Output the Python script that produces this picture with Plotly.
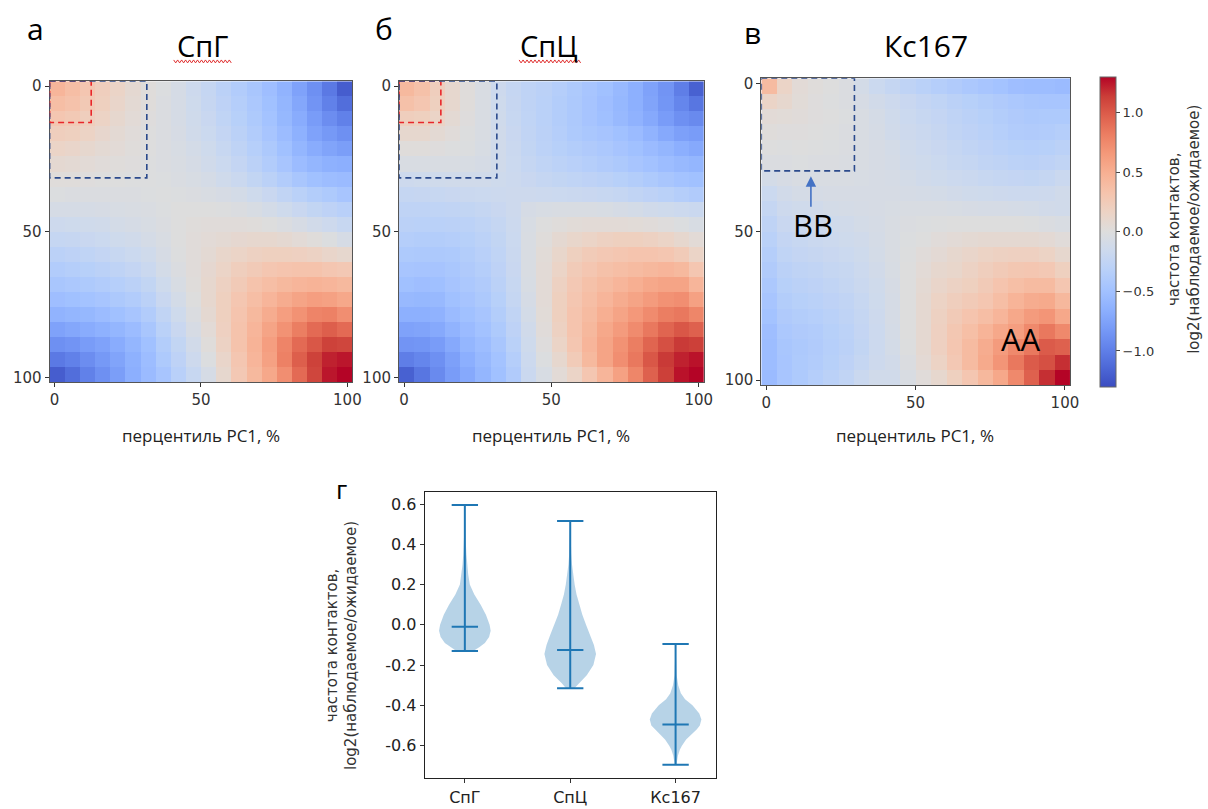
import plotly.graph_objects as go
import numpy as np

W, H = 1208, 809

# ---------------- data ----------------
panel_titles = ["СпГ", "СпЦ", "Кс167"]
panel_letters = ["а", "б", "в", "г"]
percentile_ticks = [0, 50, 100]
cbar_ticks = [-1.0, -0.5, 0.0, 0.5, 1.0]

# saddle plots: upper-triangle rows of symmetric matrices (20 percentile bins of PC1)
cpg_rows = [
    [0.45, 0.38, 0.3, 0.22, 0.15, 0.08, 0.02, -0.02, -0.08, -0.15, -0.22, -0.3, -0.37, -0.44, -0.52, -0.62, -0.75, -0.88, -1.03, -1.2],
    [0.34, 0.27, 0.2, 0.13, 0.07, 0.02, -0.03, -0.08, -0.14, -0.21, -0.28, -0.35, -0.42, -0.5, -0.6, -0.72, -0.85, -0.98, -1.1],
    [0.22, 0.16, 0.1, 0.05, 0.01, -0.03, -0.08, -0.13, -0.19, -0.26, -0.33, -0.4, -0.48, -0.58, -0.68, -0.8, -0.9, -0.98],
    [0.11, 0.07, 0.03, 0.0, -0.03, -0.07, -0.12, -0.17, -0.23, -0.3, -0.37, -0.45, -0.54, -0.64, -0.75, -0.82, -0.88],
    [0.05, 0.02, 0.0, -0.03, -0.06, -0.1, -0.14, -0.2, -0.27, -0.34, -0.41, -0.5, -0.6, -0.68, -0.74, -0.78],
    [0.01, -0.01, -0.03, -0.05, -0.08, -0.12, -0.17, -0.23, -0.3, -0.37, -0.45, -0.54, -0.6, -0.64, -0.66],
    [-0.01, -0.02, -0.04, -0.06, -0.09, -0.13, -0.18, -0.24, -0.3, -0.37, -0.44, -0.5, -0.53, -0.55],
    [-0.01, -0.02, -0.03, -0.05, -0.07, -0.1, -0.14, -0.19, -0.25, -0.31, -0.36, -0.4, -0.45],
    [0.0, 0.0, 0.0, -0.01, -0.03, -0.06, -0.1, -0.14, -0.19, -0.24, -0.28, -0.32],
    [0.02, 0.03, 0.03, 0.03, 0.02, 0.0, -0.03, -0.07, -0.11, -0.15, -0.2],
    [0.05, 0.07, 0.09, 0.1, 0.1, 0.08, 0.05, 0.02, -0.02, -0.08],
    [0.12, 0.15, 0.18, 0.2, 0.2, 0.19, 0.17, 0.13, 0.1],
    [0.22, 0.26, 0.3, 0.32, 0.33, 0.33, 0.3, 0.28],
    [0.33, 0.38, 0.42, 0.45, 0.47, 0.45, 0.42],
    [0.45, 0.52, 0.58, 0.62, 0.6, 0.55],
    [0.62, 0.7, 0.78, 0.8, 0.72],
    [0.82, 0.92, 0.98, 0.92],
    [1.02, 1.12, 1.1],
    [1.22, 1.25],
    [1.3],
]
cpc_rows = [
    [0.42, 0.35, 0.22, 0.1, 0.02, -0.05, -0.15, -0.22, -0.27, -0.3, -0.35, -0.4, -0.45, -0.5, -0.57, -0.65, -0.75, -0.85, -1.0, -1.18],
    [0.3, 0.2, 0.1, 0.02, -0.05, -0.14, -0.21, -0.27, -0.31, -0.36, -0.41, -0.46, -0.52, -0.58, -0.65, -0.74, -0.84, -0.95, -1.05],
    [0.15, 0.07, 0.01, -0.05, -0.13, -0.2, -0.26, -0.31, -0.36, -0.41, -0.46, -0.51, -0.57, -0.63, -0.7, -0.8, -0.88, -0.92],
    [0.03, -0.01, -0.05, -0.12, -0.19, -0.25, -0.3, -0.35, -0.4, -0.43, -0.46, -0.5, -0.55, -0.62, -0.7, -0.77, -0.8],
    [-0.02, -0.06, -0.12, -0.18, -0.24, -0.29, -0.33, -0.36, -0.39, -0.42, -0.46, -0.5, -0.55, -0.6, -0.66, -0.7],
    [-0.08, -0.12, -0.17, -0.22, -0.26, -0.29, -0.32, -0.35, -0.38, -0.41, -0.45, -0.49, -0.53, -0.57, -0.6],
    [-0.14, -0.16, -0.19, -0.22, -0.24, -0.26, -0.28, -0.3, -0.33, -0.36, -0.4, -0.44, -0.48, -0.5],
    [-0.15, -0.15, -0.16, -0.17, -0.18, -0.19, -0.2, -0.22, -0.25, -0.28, -0.31, -0.35, -0.38],
    [-0.08, -0.06, -0.05, -0.05, -0.05, -0.06, -0.08, -0.1, -0.12, -0.14, -0.16, -0.18],
    [0.0, 0.02, 0.04, 0.05, 0.05, 0.05, 0.04, 0.03, 0.01, -0.02, -0.06],
    [0.08, 0.12, 0.15, 0.18, 0.2, 0.2, 0.18, 0.15, 0.1, 0.05],
    [0.2, 0.25, 0.28, 0.3, 0.32, 0.32, 0.3, 0.25, 0.15],
    [0.3, 0.35, 0.38, 0.4, 0.43, 0.45, 0.42, 0.3],
    [0.4, 0.45, 0.5, 0.55, 0.58, 0.58, 0.45],
    [0.52, 0.58, 0.64, 0.7, 0.72, 0.6],
    [0.66, 0.74, 0.82, 0.85, 0.77],
    [0.85, 0.95, 1.02, 0.97],
    [1.05, 1.15, 1.13],
    [1.22, 1.26],
    [1.3],
]
ki67_rows = [
    [0.4, 0.15, 0.05, 0.02, 0.0, -0.03, -0.1, -0.17, -0.22, -0.27, -0.31, -0.35, -0.38, -0.42, -0.45, -0.48, -0.52, -0.53, -0.53, -0.55],
    [0.1, 0.04, 0.01, -0.01, -0.03, -0.07, -0.11, -0.15, -0.19, -0.23, -0.26, -0.3, -0.33, -0.36, -0.39, -0.42, -0.44, -0.45, -0.45],
    [0.03, 0.01, 0.0, -0.02, -0.05, -0.09, -0.13, -0.17, -0.2, -0.23, -0.27, -0.3, -0.33, -0.36, -0.39, -0.41, -0.4, -0.4],
    [0.0, -0.01, -0.03, -0.05, -0.08, -0.12, -0.15, -0.18, -0.21, -0.25, -0.28, -0.31, -0.34, -0.37, -0.38, -0.37, -0.35],
    [-0.02, -0.03, -0.05, -0.07, -0.1, -0.13, -0.16, -0.19, -0.22, -0.25, -0.28, -0.31, -0.33, -0.34, -0.33, -0.3],
    [-0.04, -0.05, -0.07, -0.09, -0.12, -0.14, -0.17, -0.2, -0.22, -0.25, -0.27, -0.29, -0.3, -0.28, -0.25],
    [-0.06, -0.07, -0.08, -0.1, -0.12, -0.14, -0.16, -0.18, -0.2, -0.22, -0.23, -0.24, -0.22, -0.18],
    [-0.07, -0.07, -0.08, -0.09, -0.1, -0.11, -0.13, -0.14, -0.15, -0.16, -0.16, -0.15, -0.12],
    [-0.06, -0.05, -0.05, -0.05, -0.06, -0.07, -0.08, -0.08, -0.09, -0.1, -0.11, -0.12],
    [-0.03, -0.02, -0.01, 0.0, 0.0, 0.0, 0.0, 0.0, -0.01, -0.03, -0.05],
    [0.0, 0.03, 0.05, 0.07, 0.08, 0.08, 0.08, 0.08, 0.06, 0.03],
    [0.06, 0.1, 0.13, 0.16, 0.18, 0.19, 0.19, 0.16, 0.1],
    [0.12, 0.17, 0.22, 0.26, 0.29, 0.3, 0.28, 0.2],
    [0.2, 0.26, 0.32, 0.37, 0.4, 0.4, 0.3],
    [0.3, 0.38, 0.46, 0.52, 0.54, 0.43],
    [0.45, 0.55, 0.64, 0.68, 0.55],
    [0.62, 0.75, 0.85, 0.75],
    [0.85, 1.0, 0.97],
    [1.05, 1.18],
    [1.3],
]

# violin plot (panel г)
violin_labels = ["СпГ", "СпЦ", "Кс167"]
violin_max = [0.595, 0.515, -0.095]
violin_min = [-0.13, -0.315, -0.695]
violin_mid = [-0.01, -0.125, -0.495]
cpg_prof_y = [0.595, 0.5, 0.42, 0.35, 0.3, 0.25, 0.2, 0.15, 0.1, 0.05, 0.0, -0.03, -0.06, -0.09, -0.11, -0.13]
cpg_prof_w = [0.0, 0.003, 0.008, 0.015, 0.022, 0.032, 0.047, 0.09, 0.15, 0.2, 0.235, 0.245, 0.23, 0.19, 0.14, 0.08]
cpc_prof_y = [0.515, 0.45, 0.4, 0.35, 0.3, 0.25, 0.2, 0.15, 0.1, 0.05, 0.0, -0.05, -0.1, -0.145, -0.2, -0.25, -0.29, -0.315]
cpc_prof_w = [0.0, 0.003, 0.006, 0.01, 0.017, 0.028, 0.042, 0.06, 0.087, 0.115, 0.15, 0.19, 0.225, 0.245, 0.22, 0.157, 0.08, 0.04]
ki_prof_y = [-0.095, -0.15, -0.2, -0.25, -0.3, -0.34, -0.37, -0.4, -0.44, -0.47, -0.5, -0.52, -0.55, -0.57, -0.6, -0.62, -0.65, -0.67, -0.695]
ki_prof_w = [0.0, 0.002, 0.005, 0.01, 0.025, 0.05, 0.09, 0.16, 0.225, 0.245, 0.23, 0.2, 0.14, 0.1, 0.06, 0.04, 0.022, 0.015, 0.008]
violin_ticks = [-0.6, -0.4, -0.2, 0.0, 0.2, 0.4, 0.6]

# ---------------- helpers ----------------
def sym(rows):
    n = len(rows)
    m = np.zeros((n, n))
    for i, r in enumerate(rows):
        for k, v in enumerate(r):
            m[i, i + k] = v
            m[i + k, i] = v
    return m

coolwarm = [
    [0.0, "rgb(59,76,192)"], [0.0625, "rgb(77,104,215)"], [0.125, "rgb(98,130,234)"],
    [0.1875, "rgb(119,154,247)"], [0.25, "rgb(141,176,254)"], [0.3125, "rgb(163,194,255)"],
    [0.375, "rgb(184,208,249)"], [0.4375, "rgb(204,217,238)"], [0.5, "rgb(221,221,221)"],
    [0.5625, "rgb(236,211,197)"], [0.625, "rgb(245,196,173)"], [0.6875, "rgb(247,177,148)"],
    [0.75, "rgb(244,154,123)"], [0.8125, "rgb(236,127,99)"], [0.875, "rgb(222,96,77)"],
    [0.9375, "rgb(203,62,56)"], [1.0, "rgb(180,4,38)"],
]

def px_x(p):
    return p / W

def px_y(p):
    return 1 - p / H

ZMIN, ZMAX = -1.3, 1.3
lo, hi = -1.7, 101.7

fig = go.Figure()

mats = [sym(cpg_rows), sym(cpc_rows), sym(ki67_rows)]
boxes_px = [(50, 355, 78, 382), (402, 709, 78, 382), (767, 1078, 75, 385)]
for k, m in enumerate(mats):
    edges = np.linspace(lo, hi, m.shape[0] + 1)
    sfx = "" if k == 0 else str(k + 1)
    hm = dict(z=m, x=edges, y=edges, colorscale=coolwarm, zmin=ZMIN, zmax=ZMAX,
              xaxis="x" + sfx, yaxis="y" + sfx, showscale=(k == 2), hoverinfo="skip")
    if k == 2:
        hm["colorbar"] = dict(
            x=px_x(1108), xanchor="left", xpad=0, y=px_y(230), yanchor="middle", ypad=0,
            thickness=16, thicknessmode="pixels", len=310, lenmode="pixels",
            tickvals=cbar_ticks, tickformat=".1f", ticks="outside", ticklen=4,
            tickcolor="#444", outlinecolor="#666", outlinewidth=1,
            tickfont=dict(family="DejaVu Sans", size=13, color="#333"),
        )
    fig.add_trace(go.Heatmap(**hm))

axis_common = dict(showgrid=False, zeroline=False, showline=True, mirror=True,
                   linecolor="#555", linewidth=1, ticks="outside", ticklen=4,
                   tickcolor="#333", tickvals=percentile_ticks,
                   tickfont=dict(family="DejaVu Sans", size=15, color="#333"))
layout_axes = {}
for k, (x0, x1, y0, y1) in enumerate(boxes_px):
    sfx = "" if k == 0 else str(k + 1)
    layout_axes["xaxis" + sfx] = dict(domain=[px_x(x0), px_x(x1)], range=[lo, hi],
                                      anchor="y" + sfx, **axis_common)
    layout_axes["yaxis" + sfx] = dict(domain=[px_y(y1), px_y(y0)], range=[hi, lo],
                                      anchor="x" + sfx, **axis_common)

# ---------------- violins ----------------
blue = "#1f77b4"
profiles = [(cpg_prof_y, cpg_prof_w), (cpc_prof_y, cpc_prof_w), (ki_prof_y, ki_prof_w)]
for i, (py, pw) in enumerate(profiles):
    pos = i + 1
    xs = [pos + w for w in pw] + [pos - w for w in pw[::-1]]
    ys = list(py) + list(py[::-1])
    fig.add_trace(go.Scatter(x=xs, y=ys, fill="toself", fillcolor="rgba(31,119,180,0.32)",
                             line=dict(width=0), mode="lines", xaxis="x4", yaxis="y4",
                             hoverinfo="skip"))
cap = 0.125
for i in range(3):
    pos = i + 1
    fig.add_trace(go.Scatter(x=[pos, pos], y=[violin_min[i], violin_max[i]], mode="lines",
                             line=dict(color=blue, width=2), xaxis="x4", yaxis="y4"))
    for v in (violin_min[i], violin_max[i], violin_mid[i]):
        fig.add_trace(go.Scatter(x=[pos - cap, pos + cap], y=[v, v], mode="lines",
                                 line=dict(color=blue, width=2), xaxis="x4", yaxis="y4"))

layout_axes["xaxis4"] = dict(domain=[px_x(428), px_x(721)], range=[0.62, 3.38], anchor="y4",
                             showgrid=False, zeroline=False, showline=True, mirror=True,
                             linecolor="#222", linewidth=1.3, ticks="outside", ticklen=4,
                             tickcolor="#333", tickvals=[1, 2, 3], ticktext=violin_labels,
                             tickfont=dict(family="DejaVu Sans", size=16, color="#222"))
layout_axes["yaxis4"] = dict(domain=[px_y(782), px_y(493)], range=[-0.762, 0.659], anchor="x4",
                             showgrid=False, zeroline=False, showline=True, mirror=True,
                             linecolor="#222", linewidth=1.3, ticks="outside", ticklen=4,
                             tickcolor="#333", tickvals=violin_ticks,
                             ticktext=[f"{v:.1f}" for v in violin_ticks],
                             tickfont=dict(family="DejaVu Sans", size=16, color="#222"))

# ---------------- shapes ----------------
shapes = []
dash = "6px,4px"
red = "#e8262a"
navy = "#2b4a8c"
shapes.append(dict(type="rect", xref="x", yref="y", x0=lo, y0=lo, x1=12.5, y1=12.5,
                   line=dict(color=red, width=1.6, dash=dash)))
shapes.append(dict(type="rect", xref="x", yref="y", x0=lo, y0=lo, x1=31.5, y1=31.5,
                   line=dict(color=navy, width=1.6, dash=dash)))
shapes.append(dict(type="rect", xref="x2", yref="y2", x0=lo, y0=lo, x1=12.5, y1=12.5,
                   line=dict(color=red, width=1.6, dash=dash)))
shapes.append(dict(type="rect", xref="x2", yref="y2", x0=lo, y0=lo, x1=31.5, y1=31.5,
                   line=dict(color=navy, width=1.6, dash=dash)))
shapes.append(dict(type="rect", xref="x3", yref="y3", x0=lo, y0=lo, x1=29.5, y1=29.5,
                   line=dict(color=navy, width=1.6, dash=dash)))

def squiggle(x0, x1, yc, amp=1.5, step=2.0):
    pts = []
    k = 0
    x = x0
    while x <= x1:
        yy = yc + (amp if k % 2 else -amp)
        pts.append(f"{px_x(x):.5f},{px_y(yy):.5f}")
        x += step
        k += 1
    return "M " + " L ".join(pts)

for (sx0, sx1) in [(175, 233), (523, 585)]:
    shapes.append(dict(type="path", xref="paper", yref="paper", path=squiggle(sx0, sx1, 58),
                       line=dict(color="#e03030", width=1)))

# ---------------- annotations ----------------
ann = []
def text(x, y, s, size, family="Open Sans", color="black", angle=0):
    ann.append(dict(x=px_x(x), y=px_y(y), xref="paper", yref="paper", text=s,
                    showarrow=False, xanchor="center", yanchor="middle",
                    textangle=angle, font=dict(family=family, size=size, color=color)))

text(36, 25, panel_letters[0], 30)
text(387, 25, panel_letters[1], 30)
text(758, 29, panel_letters[2], 30)
text(344, 490, panel_letters[3], 26)
text(204, 42, panel_titles[0], 29)
text(553, 42, panel_titles[1], 29)
text(933, 42, panel_titles[2], 30)
for cx in (203, 555, 922):
    text(cx, 436, "перцентиль PC1, %", 17, color="#222")
text(1193, 228, "частота контактов,<br>log2(наблюдаемое/ожидаемое)", 15,
     family="DejaVu Sans", color="#333", angle=-90)
text(344, 648, "частота контактов,<br>log2(наблюдаемое/ожидаемое)", 15,
     family="DejaVu Sans", color="#333", angle=-90)
text(819, 223, "BB", 31)
text(1029, 338, "AA", 31)
ann.append(dict(x=px_x(817), y=px_y(174), xref="paper", yref="paper", text="",
                showarrow=True, ax=0, ay=32, arrowhead=2, arrowsize=1.3, arrowwidth=1.6,
                arrowcolor="#4472c4", standoff=0))

fig.update_layout(width=W, height=H, margin=dict(l=0, r=0, t=0, b=0),
                  paper_bgcolor="white", plot_bgcolor="white", showlegend=False,
                  shapes=shapes, annotations=ann, **layout_axes)

fig.write_html("out.html")
